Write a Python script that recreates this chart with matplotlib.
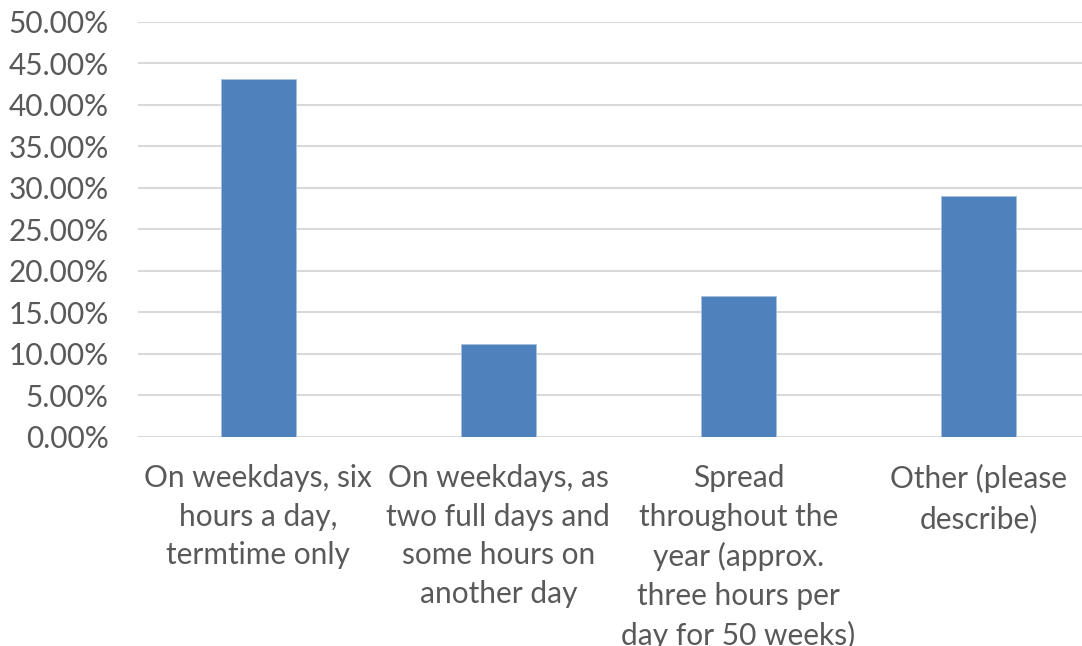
import matplotlib.pyplot as plt
from matplotlib.ticker import FuncFormatter

# values (percent)
categories = [
    "On weekdays, six\nhours a day,\ntermtime only",
    "On weekdays, as\ntwo full days and\nsome hours on\nanother day",
    "Spread\nthroughout the\nyear (approx.\nthree hours per\nday for 50 weeks)",
    "Other (please\ndescribe)",
]
shares = [43.1, 11.2, 16.9, 29.0]
yticks = [0, 5, 10, 15, 20, 25, 30, 35, 40, 45, 50]

plt.rcParams['font.family'] = ['Lato', 'DejaVu Sans']

fig = plt.figure(figsize=(10.82, 6.46), dpi=100)
ax = fig.add_axes([0.1275, 0.3243, 0.8725, 0.6421])

x = list(range(len(categories)))
ax.bar(x, shares, width=0.312, color='#4F81BD', edgecolor='#A9C0DE', linewidth=0.6, zorder=3)

ax.set_xlim(-0.5, 3.43)
ax.set_ylim(0, 50)
ax.set_yticks(yticks)
ax.yaxis.set_major_formatter(FuncFormatter(lambda v, p: f"{v:.2f}%"))
ax.grid(axis='y', color='#D9D9D9', linewidth=1.5, zorder=0)
ax.set_axisbelow(True)

ax.set_xticks(x)
ax.set_xticklabels(categories, linespacing=1.46)
ax.tick_params(axis='both', length=0, labelsize=21.5, colors='#595959')
ax.tick_params(axis='x', pad=20)
ax.tick_params(axis='y', pad=21)

for s in ax.spines.values():
    s.set_visible(False)

fig.savefig('out.png', dpi=100)
